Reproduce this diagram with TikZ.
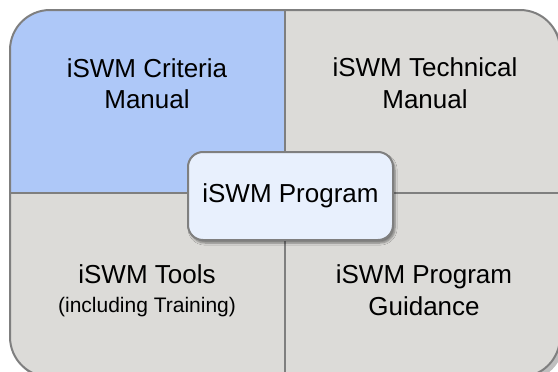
\documentclass[tikz,border=0pt]{standalone}
\usepackage{fontspec}
\setmainfont{Liberation Sans}
\usetikzlibrary{shadows.blur}
\definecolor{qblue}{HTML}{AEC8F8}
\definecolor{qgray}{HTML}{DCDBD8}
\definecolor{cblue}{HTML}{E8F0FD}
\definecolor{edge}{HTML}{7F7F7F}
\tikzset{
  bigtxt/.style={anchor=base, inner sep=0pt, font=\fontsize{26}{31}\selectfont},
  smalltxt/.style={anchor=base, inner sep=0pt, font=\fontsize{21}{25}\selectfont},
  divider/.style={draw=edge, line width=2pt},
  centerbox/.style={draw=edge, line width=2pt, fill=cblue, rounded corners=15pt,
    minimum width=205pt, minimum height=88pt, inner sep=0pt,
    font=\fontsize{26}{31}\selectfont,
    blur shadow={shadow xshift=2pt, shadow yshift=-3pt, shadow blur steps=6, shadow opacity=45}}
}
\begin{document}
\begin{tikzpicture}[x=1pt,y=-1pt]
\useasboundingbox (0,0) rectangle (558,372);
% outer shadow
\fill[black, opacity=0.25, rounded corners=40pt] (13,14) rectangle (564,381);
\begin{scope}
  \clip[rounded corners=40pt] (10,10) rectangle (560,377);
  \fill[qblue] (10,10) rectangle (285,193);
  \fill[qgray] (285,10) rectangle (560,193);
  \fill[qgray] (10,193) rectangle (560,377);
\end{scope}
\coordinate (top) at (285,10);
\coordinate (bot) at (285,377);
\coordinate (lft) at (10,193);
\coordinate (rgt) at (560,193);
\draw[divider] (top) -- (bot);
\draw[divider] (lft) -- (rgt);
\draw[draw=edge, line width=2pt, rounded corners=40pt] (10,10) rectangle (560,377);
% texts
\node[bigtxt] (crit1) at (147,77) {iSWM Criteria};
\node[bigtxt] (crit2) at (147,108) {Manual};
\node[bigtxt] (tech1) at (425,76) {iSWM Technical};
\node[bigtxt] (tech2) at (425,108) {Manual};
\node[bigtxt] (tool1) at (147,283) {iSWM Tools};
\node[smalltxt] (tool2) at (147,312) {(including Training)};
\node[bigtxt] (guid1) at (424,283) {iSWM Program};
\node[bigtxt] (guid2) at (424,315) {Guidance};
\node[centerbox] (prog) at (290.5,196) {iSWM Program};
\end{tikzpicture}
\end{document}
